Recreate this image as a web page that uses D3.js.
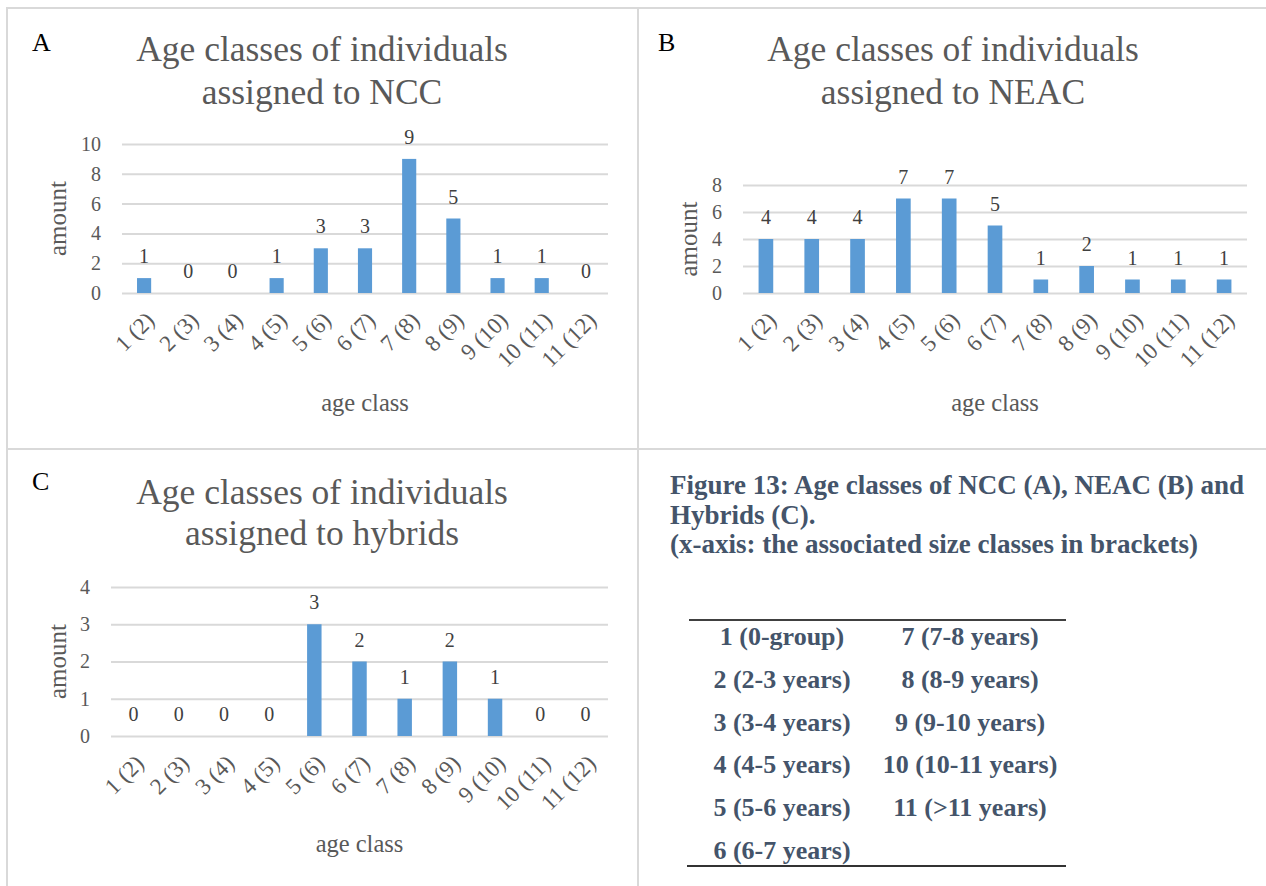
<!DOCTYPE html>
<html>
<head>
<meta charset="utf-8">
<script src="https://cdn.jsdelivr.net/npm/d3@7"></script>
<style>
  html, body { margin: 0; padding: 0; background: #ffffff; }
  svg { display: block; }
</style>
</head>
<body>
<svg id="fig" width="1266" height="886"></svg>
<script>
// Age classes (size classes in brackets)
const ageClasses = ["1 (2)", "2 (3)", "3 (4)", "4 (5)", "5 (6)", "6 (7)", "7 (8)", "8 (9)", "9 (10)", "10 (11)", "11 (12)"];

// Counts per age class
const nccCounts    = [1, 0, 0, 1, 3, 3, 9, 5, 1, 1, 0];
const neacCounts   = [4, 4, 4, 7, 7, 5, 1, 2, 1, 1, 1];
const hybridCounts = [0, 0, 0, 0, 3, 2, 1, 2, 1, 0, 0];

// Y-axis ticks
const nccTicks    = [0, 2, 4, 6, 8, 10];
const neacTicks   = [0, 2, 4, 6, 8];
const hybridTicks = [0, 1, 2, 3, 4];

// Panel titles
const panelLetters = ["A", "B", "C"];
const panelTitles = [
  ["Age classes of individuals", "assigned to NCC"],
  ["Age classes of individuals", "assigned to NEAC"],
  ["Age classes of individuals", "assigned to hybrids"]
];

// Caption and age-class key
const captionLines = [
  "Figure 13: Age classes of NCC (A), NEAC (B) and",
  "Hybrids (C).",
  "(x-axis: the associated size classes in brackets)"
];
const keyLeft  = ["1 (0-group)", "2 (2-3 years)", "3 (3-4 years)", "4 (4-5 years)", "5 (5-6 years)", "6 (6-7 years)"];
const keyRight = ["7 (7-8 years)", "8 (8-9 years)", "9 (9-10 years)", "10 (10-11 years)", "11 (>11 years)"];

const FONT = "Liberation Serif, DejaVu Serif, serif";
const BAR = "#5B9BD5", GRID = "#D9D9D9", TXT = "#595959", LBL = "#404040", CAP = "#44546A";

const svg = d3.select("#fig").attr("font-family", FONT);

// Panel frame lines
const frame = svg.append("g").attr("stroke", "#D9D9D9").attr("stroke-width", 2);
frame.append("line").attr("x1", 7).attr("x2", 1266).attr("y1", 8).attr("y2", 8);
frame.append("line").attr("x1", 7).attr("x2", 7).attr("y1", 7).attr("y2", 886);
frame.append("line").attr("x1", 638).attr("x2", 638).attr("y1", 8).attr("y2", 886);
frame.append("line").attr("x1", 7).attr("x2", 1266).attr("y1", 449).attr("y2", 449);

// Layout of each chart panel
const panels = [
  { values: nccCounts, ticks: nccTicks, max: 10,
    letter: [32, 51], titleX: 322, titleY: [61, 104],
    x0: 122, x1: 608, yTop: 144, yBot: 293, yLabX: 57, tickLabY: 316, xTitleY: 411 },
  { values: neacCounts, ticks: neacTicks, max: 8,
    letter: [658, 51], titleX: 953, titleY: [61, 104],
    x0: 743, x1: 1247, yTop: 185, yBot: 293, yLabX: 688, tickLabY: 316, xTitleY: 411 },
  { values: hybridCounts, ticks: hybridTicks, max: 4,
    letter: [32, 490], titleX: 322, titleY: [504, 545],
    x0: 111, x1: 608, yTop: 587, yBot: 736, yLabX: 57, tickLabY: 759, xTitleY: 852 }
];

panels.forEach((p, i) => {
  const g = svg.append("g");
  const x = d3.scaleBand().domain(ageClasses).range([p.x0, p.x1]).paddingInner(0.68).paddingOuter(0.34);
  const y = d3.scaleLinear().domain([0, p.max]).range([p.yBot, p.yTop]);

  // Panel letter
  g.append("text").attr("x", p.letter[0]).attr("y", p.letter[1])
    .attr("font-size", 26).attr("fill", "#000").text(panelLetters[i]);

  // Title
  g.append("text").attr("text-anchor", "middle").attr("font-size", 35.5).attr("fill", TXT)
    .selectAll("tspan").data(panelTitles[i]).join("tspan")
    .attr("x", p.titleX).attr("y", (d, k) => p.titleY[k]).text(d => d);

  // Gridlines + y labels via axis
  const yAxis = d3.axisLeft(y).tickValues(p.ticks).tickFormat(d3.format("d"))
    .tickSize(-(p.x1 - p.x0)).tickPadding(21);
  const ya = g.append("g").attr("transform", `translate(${p.x0},0)`).call(yAxis)
    .attr("font-family", FONT).attr("font-size", 20);
  ya.select(".domain").remove();
  ya.selectAll(".tick line").attr("stroke", GRID).attr("stroke-width", 2);
  ya.selectAll(".tick text").attr("fill", TXT);

  // Bars
  g.selectAll("rect.bar").data(p.values).join("rect").attr("class", "bar")
    .attr("x", (d, k) => x(ageClasses[k]))
    .attr("width", x.bandwidth())
    .attr("y", d => y(d))
    .attr("height", d => y(0) - y(d))
    .attr("fill", BAR);

  // Value labels
  g.selectAll("text.val").data(p.values).join("text").attr("class", "val")
    .attr("x", (d, k) => x(ageClasses[k]) + x.bandwidth() / 2)
    .attr("y", d => y(d) - 15)
    .attr("text-anchor", "middle").attr("font-size", 20).attr("fill", LBL)
    .text(d => d);

  // Rotated category labels
  g.selectAll("text.cat").data(ageClasses).join("text").attr("class", "cat")
    .attr("transform", d => `translate(${x(d) + x.bandwidth() / 2 + 6},${p.tickLabY}) rotate(-45)`)
    .attr("text-anchor", "end").attr("dy", "0.35em")
    .attr("font-size", 23).attr("fill", TXT).text(d => d);

  // Axis titles
  g.append("text").attr("transform", `translate(${p.yLabX},${(p.yTop + p.yBot) / 2}) rotate(-90)`)
    .attr("text-anchor", "middle").attr("dy", "0.35em").attr("font-size", 25).attr("fill", TXT)
    .text("amount");
  g.append("text").attr("x", (p.x0 + p.x1) / 2).attr("y", p.xTitleY)
    .attr("text-anchor", "middle").attr("font-size", 24.5).attr("fill", TXT).text("age class");
});

// Caption
svg.append("text").attr("font-size", 27).attr("font-weight", "bold").attr("fill", CAP)
  .selectAll("tspan").data(captionLines).join("tspan")
  .attr("x", 670).attr("y", (d, k) => 494 + k * 29.5).text(d => d);

// Age-class key table
const rowY = d3.scaleLinear().domain([0, 5]).range([645, 859]);
const key = svg.append("g").attr("font-size", 26).attr("font-weight", "bold").attr("fill", CAP)
  .attr("text-anchor", "middle");
key.selectAll("text.l").data(keyLeft).join("text").attr("class", "l")
  .attr("x", 782).attr("y", (d, k) => rowY(k)).text(d => d);
key.selectAll("text.r").data(keyRight).join("text").attr("class", "r")
  .attr("x", 970).attr("y", (d, k) => rowY(k)).text(d => d);
svg.append("line").attr("x1", 689).attr("x2", 1066).attr("y1", 620).attr("y2", 620)
  .attr("stroke", "#000").attr("stroke-width", 1.5);
svg.append("line").attr("x1", 687).attr("x2", 1066).attr("y1", 866).attr("y2", 866)
  .attr("stroke", "#333").attr("stroke-width", 2);
</script>
</body>
</html>
